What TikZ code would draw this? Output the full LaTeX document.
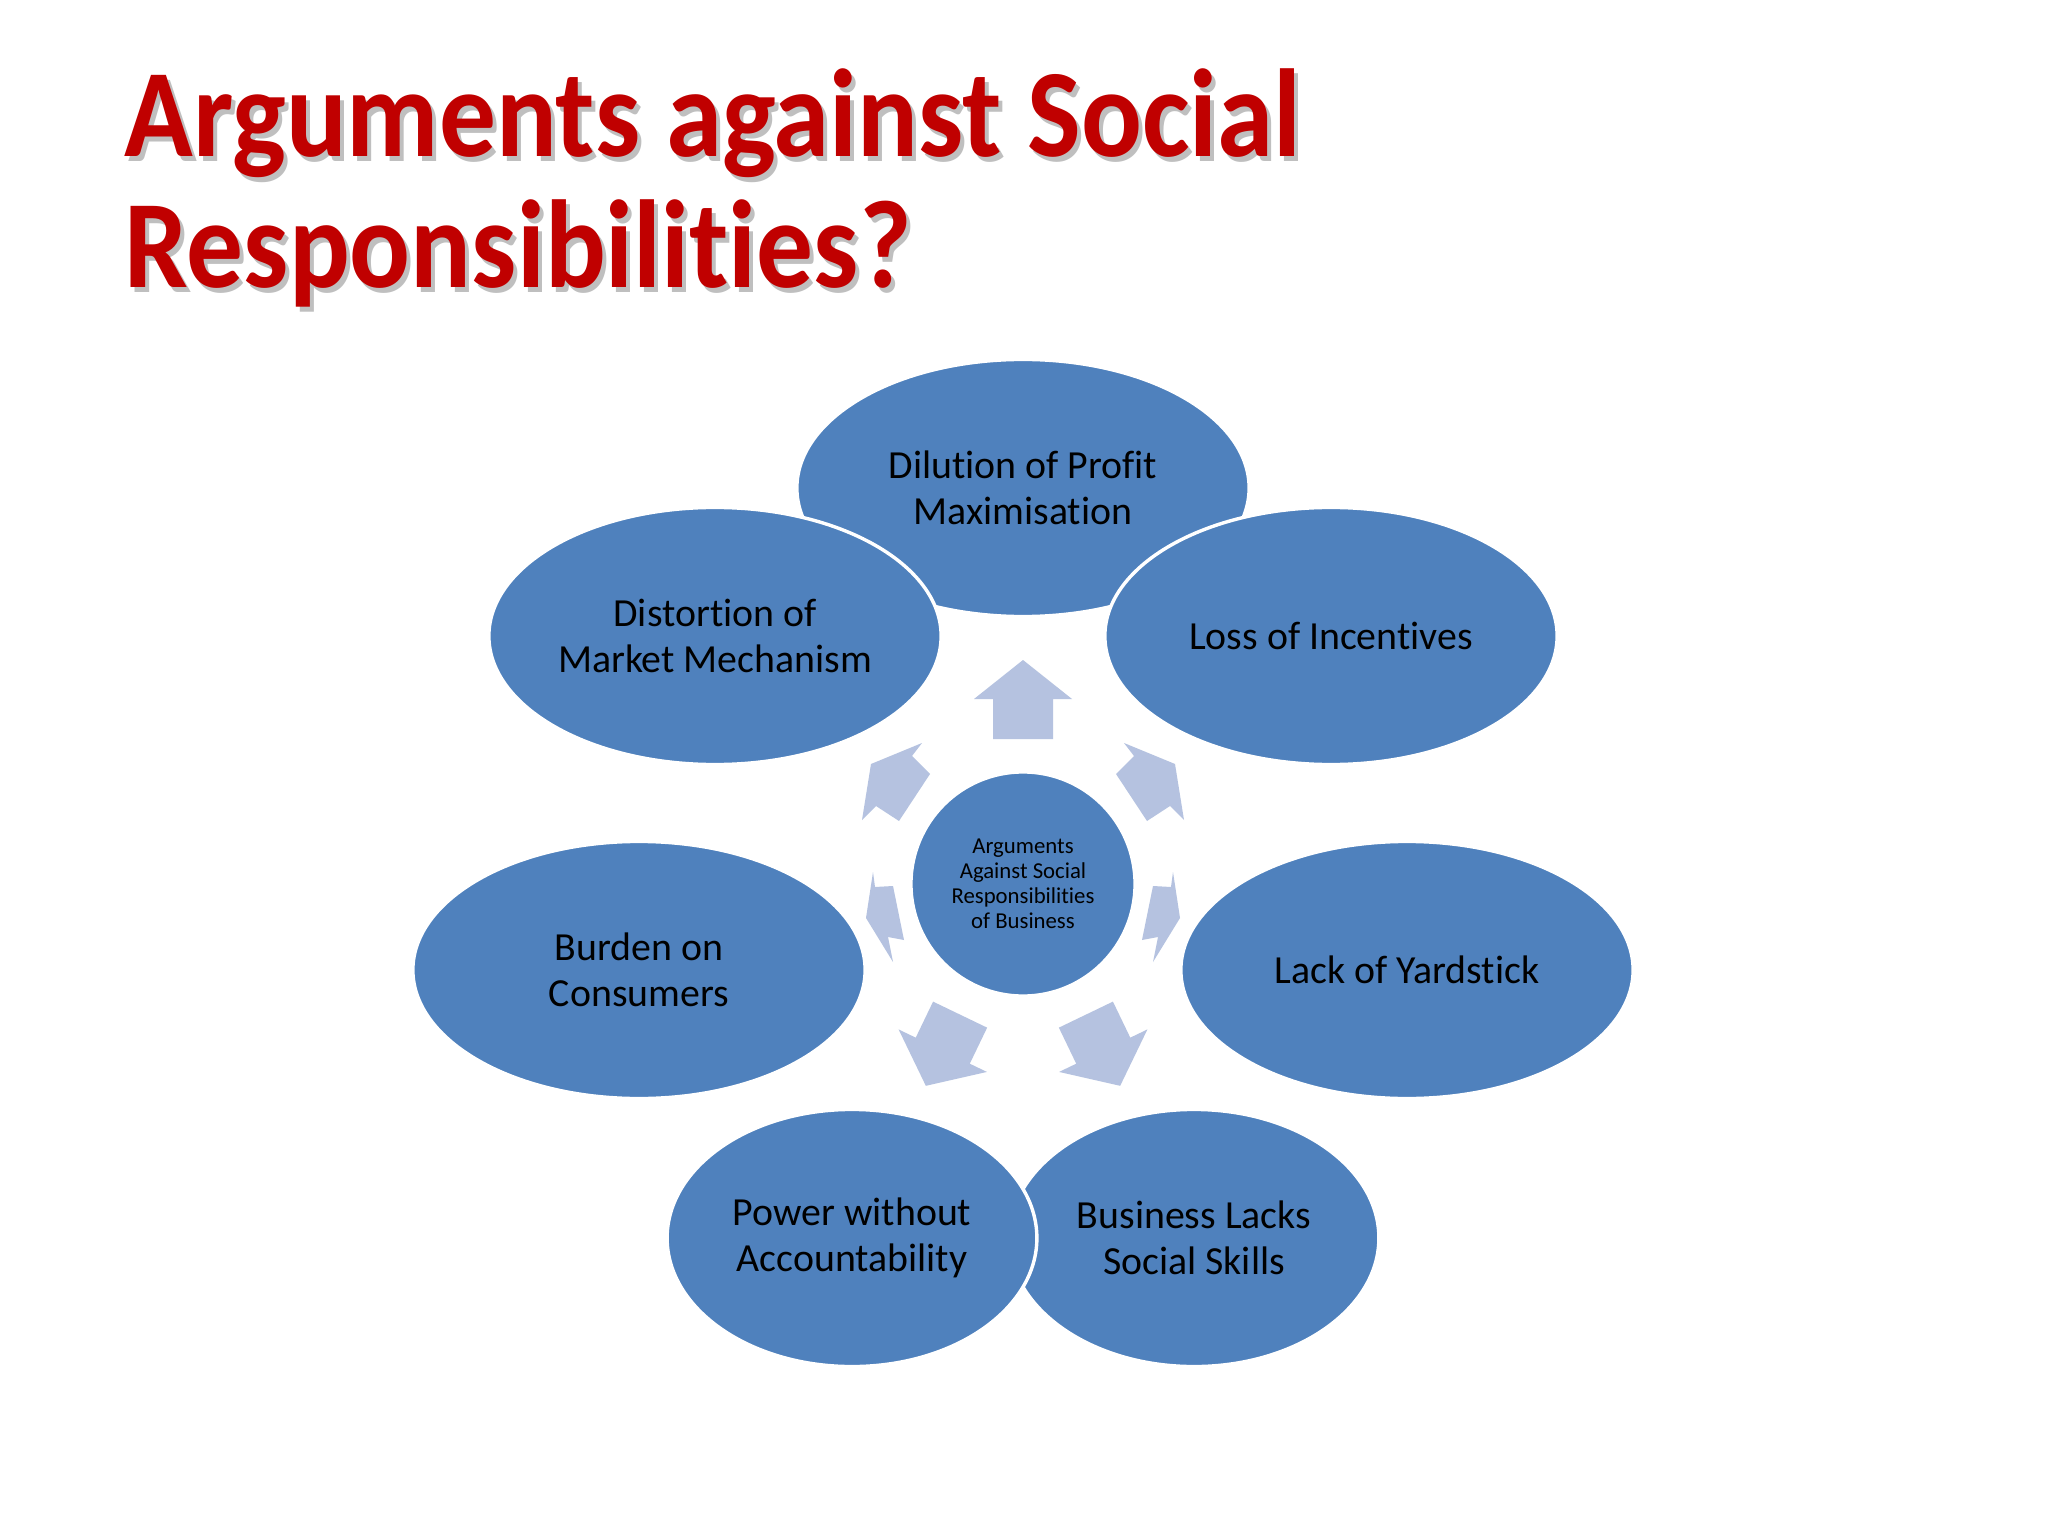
\documentclass[tikz,border=0pt]{standalone}
\usepackage{fontspec}
\setmainfont{Carlito}[Ligatures=NoCommon]
\newfontfamily\titlefont{Carlito Bold}[FakeStretch=0.906,Ligatures=NoCommon]
\usepackage{xcolor}
\usetikzlibrary{shapes.geometric}

\definecolor{bubbleblue}{RGB}{79,129,189}
\definecolor{arrowgrey}{RGB}{181,194,224}
\definecolor{titlered}{RGB}{192,0,0}

\tikzset{
	bubble/.style={ellipse, fill=bubbleblue, draw=white, line width=1.2pt, minimum width=159pt, minimum height=90.4pt, inner sep=1pt, align=center, font=\fontsize{14}{16}\selectfont},
	smallbubble/.style={bubble, minimum width=130pt},
	hubdisc/.style={circle, fill=bubbleblue, draw=white, line width=1.2pt, minimum size=78.8pt, inner sep=0pt, align=center, font=\fontsize{8}{8.8}\selectfont},
	blockarrow/.style={fill=arrowgrey},
	titletext/.style={font=\titlefont\fontsize{44}{48}\selectfont, inner sep=0pt, anchor=base west}
}

\begin{document}
\begin{tikzpicture}[x=0.3515625pt, y=-0.3515625pt]
		\fill[white](0,0) rectangle (2048,1536);
		\useasboundingbox (0,0) rectangle (2048,1536);
		% title with its shadow
		\node[titletext, text=gray!50] (shadowa) at (128,162) {Arguments against Social};
		\node[titletext, text=gray!50] (shadowb) at (128,293) {Responsibilities?};
		\node[titletext, text=titlered] (titlea) at (124,157) {Arguments against Social};
		\node[titletext, text=titlered] (titleb) at (124,288) {Responsibilities?};
		% arrows round the hub
		\foreach \a in {0,154.29,-154.29}
			\fill[blockarrow, rotate around={\a:(1023,884)}](1023,660)--(1072,699)--(1053,699)--(1053,739)--(993,739)--(993,699)--(974,699)--cycle;
		\fill[blockarrow](1124,743)--(1175,764)--(1184,820)--(1170,806)--(1147,821)--(1116,774)--(1134,756)--cycle;
		\fill[blockarrow](922,743)--(871,764)--(862,820)--(876,806)--(899,821)--(930,774)--(912,756)--cycle;
		\fill[blockarrow](1173,872)--(1180,918)--(1153,962)--(1158,937)--(1142,940)--(1153,886)--(1171,887)--cycle;
		\fill[blockarrow](873,872)--(866,918)--(893,962)--(888,937)--(904,940)--(893,886)--(875,887)--cycle;
		% the seven arguments
		\node[bubble] (dilution) at (1023,488) {Dilution of Profit\\Maximisation};
		\node[bubble] (incentives) at (1331,636) {Loss of Incentives};
		\node[bubble] (yardstick) at (1407,970) {Lack of Yardstick};
		\node[smallbubble] (skills) at (1194,1238) {Business Lacks\\Social Skills};
		\node[smallbubble] (power) at (852,1238) {Power without\\Accountability};
		\node[bubble] (burden) at (639,970) {Burden on\\Consumers};
		\node[bubble] (distortion) at (715,636) {Distortion of\\Market Mechanism};
		\node[hubdisc] (hub) at (1023,884) {Arguments\\Against Social\\Responsibilities\\of Business};
\end{tikzpicture}
\end{document}
